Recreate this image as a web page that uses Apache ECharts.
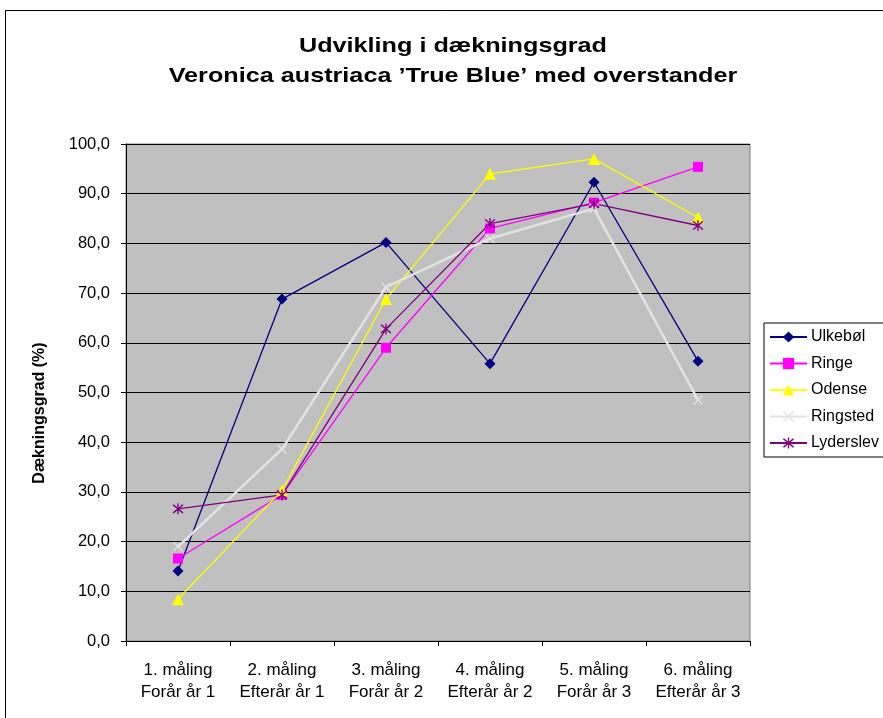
<!DOCTYPE html>
<html>
<head>
<meta charset="utf-8">
<script src="https://cdn.jsdelivr.net/npm/echarts@6/dist/echarts.min.js"></script>
<style>html,body{margin:0;padding:0;background:#fff;}#c{width:883px;height:718px;}</style>
</head>
<body>
<div id="c"></div>
<script>
const categories = ["1. måling\nForår år 1","2. måling\nEfterår år 1","3. måling\nForår år 2","4. måling\nEfterår år 2","5. måling\nForår år 3","6. måling\nEfterår år 3"];
const ulkebol   = [14.1, 68.8, 80.2, 55.8, 92.3, 56.3];
const ringe     = [16.6, 29.4, 59.0, 83.0, 88.2, 95.4];
const odense    = [8.4, 30.3, 68.8, 94.0, 97.0, 85.2];
const ringsted  = [19.0, 38.6, 71.2, 81.0, 87.0, 48.5];
const lyderslev = [26.6, 29.4, 62.8, 84.0, 88.0, 83.6];
const seriesNames = ["Ulkebøl","Ringe","Odense","Ringsted","Lyderslev"];
const titleLines = ["Udvikling i dækningsgrad", "Veronica austriaca ’True Blue’ med overstander"];
const yAxisTitle = "Dækningsgrad (%)";

const FONT = 'Arial, "Liberation Sans", sans-serif';
const xPath = 'path://M0,1 L1,0 L5,4 L9,0 L10,1 L6,5 L10,9 L9,10 L5,6 L1,10 L0,9 L4,5 Z';
const starPath = 'path://M0,1 L1,0 L5,4 L9,0 L10,1 L6,5 L10,9 L9,10 L5,6 L1,10 L0,9 L4,5 Z M4.4,-1 L5.6,-1 L5.6,11 L4.4,11 Z';

function mk(name, data, color, symbol, size, width) {
  return {
    name: name, type: 'line', data: data,
    symbol: symbol, symbolSize: size,
    lineStyle: {color: color, width: width},
    itemStyle: {color: color},
    emphasis: {disabled: true},
    animation: false
  };
}

const chart = echarts.init(document.getElementById('c'));
chart.setOption({
  backgroundColor: '#fff',
  animation: false,
  graphic: [
    {type: 'rect', shape: {x: 5.5, y: 10.5, width: 920, height: 800}, style: {fill: 'none', stroke: '#000', lineWidth: 1}, z: -1},
    {type: 'text', x: 453, y: 46, scaleX: 1.2,
     style: {text: titleLines[0], font: 'bold 21px ' + FONT, fill: '#000', align: 'center', verticalAlign: 'middle'}},
    {type: 'text', x: 453, y: 76, scaleX: 1.2,
     style: {text: titleLines[1], font: 'bold 21px ' + FONT, fill: '#000', align: 'center', verticalAlign: 'middle'}},
    {type: 'text', x: 40, y: 413, rotation: Math.PI / 2,
     style: {text: yAxisTitle, font: 'bold 16px ' + FONT, fill: '#000', align: 'center', verticalAlign: 'middle'}}
  ],
  legend: {
    orient: 'vertical', left: 764, top: 323,
    data: seriesNames,
    itemWidth: 37, itemHeight: 14, itemGap: 10.5,
    padding: [6, 30, 6, 5],
    borderColor: '#000', borderWidth: 1, backgroundColor: '#fff',
    textStyle: {fontFamily: FONT, fontSize: 16, color: '#000', padding: [0, 0, 0, -1], lineHeight: 14}
  },
  grid: {left: 126, right: 133, top: 144, bottom: 77, show: true, backgroundColor: '#C0C0C0', borderColor: '#808080', borderWidth: 1},
  xAxis: {
    type: 'category', data: categories, boundaryGap: true,
    axisLine: {lineStyle: {color: '#000', width: 1}},
    axisTick: {show: true, length: 5, lineStyle: {color: '#000'}},
    axisLabel: {fontFamily: FONT, fontSize: 17, color: '#000', lineHeight: 22, margin: 18, interval: 0}
  },
  yAxis: {
    type: 'value', min: 0, max: 100, interval: 10,
    axisLine: {show: true, lineStyle: {color: '#000', width: 1}},
    axisTick: {show: true, length: 5, lineStyle: {color: '#000'}},
    splitLine: {lineStyle: {color: '#000', width: 1}},
    axisLabel: {fontFamily: FONT, fontSize: 16.5, color: '#000', margin: 16,
      formatter: v => v.toFixed(1).replace('.', ',')}
  },
  series: [
    mk(seriesNames[0], ulkebol, '#000080', 'diamond', 11, 1.3),
    mk(seriesNames[1], ringe, '#FF00FF', 'rect', 10, 1.3),
    mk(seriesNames[2], odense, '#FFFF00', 'triangle', 12, 1.3),
    mk(seriesNames[3], ringsted, '#E3E3E3', xPath, 10, 2.5),
    mk(seriesNames[4], lyderslev, '#800080', starPath, 11, 1.3)
  ]
});
</script>
</body>
</html>
